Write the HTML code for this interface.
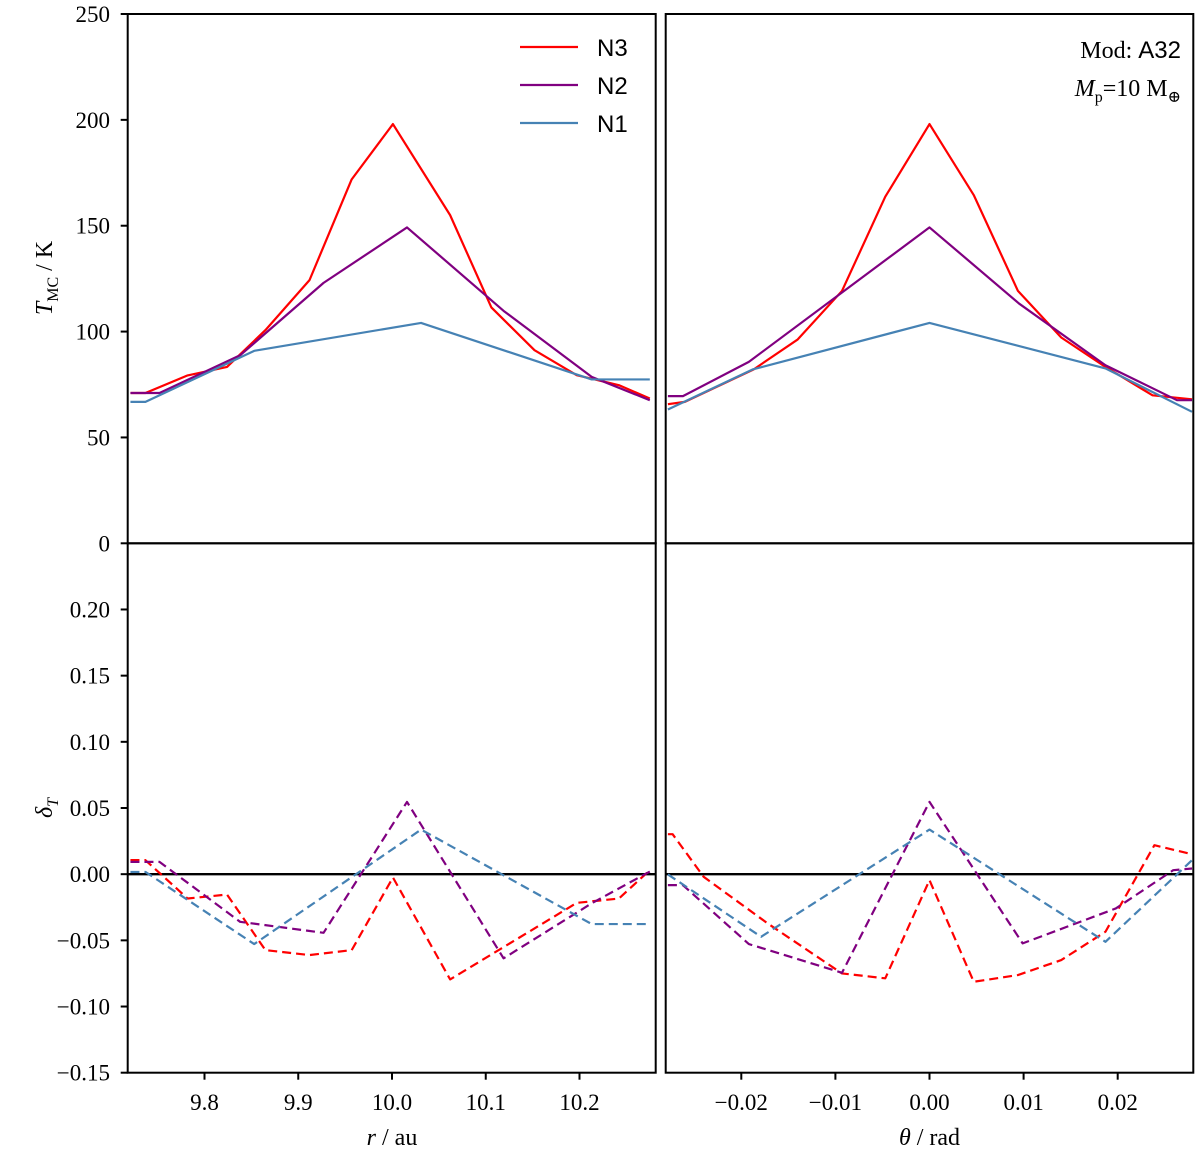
<!DOCTYPE html>
<html><head><meta charset="utf-8"><style>
html,body{margin:0;padding:0;background:#fff;width:1200px;height:1158px;overflow:hidden}
svg{display:block}
text{font-family:"Liberation Serif","DejaVu Serif",serif;fill:#000}
</style></head><body>
<svg id="chart" width="1200" height="1158" viewBox="0 0 1200 1158" xmlns="http://www.w3.org/2000/svg"></svg>
<script>
// ---- data ----
const yTicksTop = [0, 50, 100, 150, 200, 250];
const yTicksBot = [-0.15, -0.10, -0.05, 0.00, 0.05, 0.10, 0.15, 0.20];
const yTickLabelsBot = ["\u22120.15","\u22120.10","\u22120.05","0.00","0.05","0.10","0.15","0.20"];
const xTicksL = [9.8, 9.9, 10.0, 10.1, 10.2];
const xTickLabelsL = ["9.8","9.9","10.0","10.1","10.2"];
const xTicksR = [-0.02, -0.01, 0.0, 0.01, 0.02];
const xTickLabelsR = ["\u22120.02","\u22120.01","0.00","0.01","0.02"];

// top-left: T vs r
const tlN3r = [9.721,9.737,9.782,9.824,9.865,9.912,9.957,10.001,10.062,10.106,10.152,10.197,10.242,10.275];
const tlN3T = [71.0,71.0,79.3,83.3,100.7,124.3,171.9,198.0,155.0,111.4,91.2,79.4,74.7,68.4];
const tlN2r = [9.721,9.752,9.838,9.927,10.016,10.119,10.213,10.275];
const tlN2T = [71.0,71.0,88.8,123.0,149.2,109.8,78.6,67.6];
const tlN1r = [9.721,9.737,9.853,10.031,10.213,10.275];
const tlN1T = [66.8,66.8,90.9,104.1,77.4,77.4];
// top-right: T vs theta
const trN3t = [-0.0278,-0.0260,-0.0187,-0.0140,-0.0093,-0.0047,0,0.0047,0.0094,0.0140,0.0187,0.0237,0.0279];
const trN3T = [65.7,66.8,82.1,96.3,119.2,163.7,198.0,164.5,119.2,97.2,83.3,69.9,68.0];
const trN2t = [-0.0278,-0.0262,-0.0192,0,0.0095,0.0187,0.0263,0.0279];
const trN2T = [69.5,69.5,85.7,149.2,113.3,84.1,67.6,67.6];
const trN1t = [-0.0278,-0.0188,0,0.0187,0.0279];
const trN1T = [63.2,82.1,104.1,82.6,62.1];
// bottom-left: delta vs r
const blN3r = [9.721,9.737,9.782,9.824,9.865,9.912,9.957,10.001,10.062,10.106,10.152,10.197,10.242,10.275];
const blN3d = [0.0106,0.0106,-0.0184,-0.0154,-0.0574,-0.0611,-0.0574,-0.0025,-0.0795,-0.0607,-0.0410,-0.0217,-0.0184,0.003];
const blN2r = [9.721,9.752,9.838,9.927,10.016,10.119,10.213,10.275];
const blN2d = [0.0093,0.0093,-0.036,-0.0443,0.0546,-0.0636,-0.022,0.002];
const blN1r = [9.721,9.737,9.853,10.031,10.213,10.275];
const blN1d = [0.0017,0.0017,-0.0528,0.0337,-0.0377,-0.0377];
// bottom-right: delta vs theta
const brN3t = [-0.0278,-0.0273,-0.0240,-0.0172,-0.0093,-0.0047,0,0.0047,0.0094,0.0140,0.0187,0.0239,0.0279];
const brN3d = [0.0302,0.0302,-0.002,-0.0372,-0.0750,-0.0787,-0.0045,-0.0813,-0.0762,-0.0649,-0.0435,0.0219,0.0151];
const brN2t = [-0.0278,-0.0262,-0.0192,-0.0093,0,0.0099,0.0198,0.0259,0.0279];
const brN2d = [-0.0083,-0.0083,-0.0528,-0.0745,0.0546,-0.0523,-0.0259,0.003,0.0043];
const brN1t = [-0.0278,-0.0179,0,0.0187,0.0279];
const brN1d = [-0.0002,-0.0473,0.0337,-0.0511,0.0106];

// ---- layout ----
const NS = "http://www.w3.org/2000/svg";
const svg = document.getElementById("chart");
const L = {x0:127.7, x1:655.7}, R = {x0:665.7, x1:1193.3};
const TOP = {y0:14, y1:543.3}, BOT = {y0:543.3, y1:1072.7};
const xL = v => 392 + (v - 10.0) * 937.5;
const xR = v => 929.5 + v * 9410;
const yT = v => 543.3 - (v / 250) * (543.3 - 14);
const yB = v => 1072.7 - ((v + 0.15) / 0.40) * (1072.7 - 543.3);
const COL = {N3:"#ff0000", N2:"#800080", N1:"#4682b4"};

function mk(tag, attrs, parent){
  const e = document.createElementNS(NS, tag);
  for (const k in attrs) e.setAttribute(k, attrs[k]);
  (parent || svg).appendChild(e);
  return e;
}
function series(xs, ys, fx, fy, color, dashed, name, clipId){
  const d = xs.map((v,i)=>(i?"L":"M")+fx(v).toFixed(2)+","+fy(ys[i]).toFixed(2)).join(" ");
  const p = mk("path", {d:d, fill:"none", stroke:color, "stroke-width":2.2, "stroke-linejoin":"round", "clip-path":"url(#"+clipId+")"});
  if (dashed) p.setAttribute("stroke-dasharray","9,5");
  
  
}
// clip paths
const defs = mk("defs", {});
[["cTL",L,TOP],["cTR",R,TOP],["cBL",L,BOT],["cBR",R,BOT]].forEach(([id,X,Y])=>{
  const c = mk("clipPath",{id:id},defs);
  mk("rect",{x:X.x0,y:Y.y0,width:X.x1-X.x0,height:Y.y1-Y.y0},c);
});

// zero lines
[[L],[R]].forEach(([X])=>{
  const z = mk("line",{x1:X.x0,x2:X.x1,y1:yB(0),y2:yB(0),stroke:"#000","stroke-width":2.4});
  
  
});

// series
series(tlN3r, tlN3T, xL, yT, COL.N3, false, "top-left-n3-line", "cTL");
series(tlN2r, tlN2T, xL, yT, COL.N2, false, "top-left-n2-line", "cTL");
series(tlN1r, tlN1T, xL, yT, COL.N1, false, "top-left-n1-line", "cTL");
series(trN3t, trN3T, xR, yT, COL.N3, false, "top-right-n3-line", "cTR");
series(trN2t, trN2T, xR, yT, COL.N2, false, "top-right-n2-line", "cTR");
series(trN1t, trN1T, xR, yT, COL.N1, false, "top-right-n1-line", "cTR");
series(blN3r, blN3d, xL, yB, COL.N3, true, "bottom-left-n3-dashed", "cBL");
series(blN2r, blN2d, xL, yB, COL.N2, true, "bottom-left-n2-dashed", "cBL");
series(blN1r, blN1d, xL, yB, COL.N1, true, "bottom-left-n1-dashed", "cBL");
series(brN3t, brN3d, xR, yB, COL.N3, true, "bottom-right-n3-dashed", "cBR");
series(brN2t, brN2d, xR, yB, COL.N2, true, "bottom-right-n2-dashed", "cBR");
series(brN1t, brN1d, xR, yB, COL.N1, true, "bottom-right-n1-dashed", "cBR");

// frames
[["top-left-frame",L,TOP],["top-right-frame",R,TOP],["bottom-left-frame",L,BOT],["bottom-right-frame",R,BOT]].forEach(([n,X,Y])=>{
  const f = mk("rect",{x:X.x0,y:Y.y0,width:X.x1-X.x0,height:Y.y1-Y.y0,fill:"none",stroke:"#000","stroke-width":2});
  
  
});

function txt(s, x, y, anchor, size, name, extra){
  const t = mk("text", Object.assign({x:x,y:y,"text-anchor":anchor,"font-size":size}, extra||{}));
  t.textContent = s;
  
  
  return t;
}
// y ticks
yTicksTop.forEach(v=>{
  mk("line",{x1:L.x0-7,x2:L.x0,y1:yT(v),y2:yT(v),stroke:"#000","stroke-width":2});
  txt(String(v), 110, yT(v)+8, "end", 23, "y-tick-label-top");
});
yTicksBot.forEach((v,i)=>{
  mk("line",{x1:L.x0-7,x2:L.x0,y1:yB(v),y2:yB(v),stroke:"#000","stroke-width":2});
  txt(yTickLabelsBot[i], 110, yB(v)+8, "end", 23, "y-tick-label-bottom");
});
// x ticks
xTicksL.forEach((v,i)=>{
  mk("line",{x1:xL(v),x2:xL(v),y1:BOT.y1,y2:BOT.y1+7,stroke:"#000","stroke-width":2});
  txt(xTickLabelsL[i], xL(v), 1110, "middle", 23, "x-tick-label-left");
});
xTicksR.forEach((v,i)=>{
  mk("line",{x1:xR(v),x2:xR(v),y1:BOT.y1,y2:BOT.y1+7,stroke:"#000","stroke-width":2});
  txt(xTickLabelsR[i], xR(v), 1110, "middle", 23, "x-tick-label-right");
});

// axis titles
const xl = txt("", 392, 1145, "middle", 24, "x-axis-title-left");
xl.innerHTML = '<tspan font-style="italic">r</tspan> / au';
const xr = txt("", 929.5, 1145, "middle", 24, "x-axis-title-right");
xr.innerHTML = '<tspan font-style="italic">θ</tspan> / rad';
const yl = txt("", 0, 0, "middle", 24, "y-axis-title-top", {transform:"translate(52,278) rotate(-90)"});
yl.innerHTML = '<tspan font-style="italic">T</tspan><tspan font-size="16" dy="6">MC</tspan><tspan dy="-6"> / K</tspan>';
const yb = txt("", 0, 0, "middle", 24, "y-axis-title-bottom", {transform:"translate(52,808) rotate(-90)"});
yb.innerHTML = '<tspan font-style="italic">δ</tspan><tspan font-size="16" font-style="italic" dy="6">T</tspan>';

// legend
[["N3",COL.N3,47],["N2",COL.N2,85],["N1",COL.N1,123]].forEach(([lab,c,y])=>{
  const g = mk("g",{});
  
  
  mk("line",{x1:520,x2:578,y1:y,y2:y,stroke:c,"stroke-width":2.2},g);
  const t = mk("text",{x:597,y:y+9,"font-size":24,style:'font-family:"Liberation Sans","DejaVu Sans",sans-serif'},g);
  t.textContent = lab;
});
// annotation
const a1 = txt("", 1181, 58, "end", 24, "model-annotation");
a1.innerHTML = 'Mod:  <tspan style="font-family:\'Liberation Sans\',sans-serif">A32</tspan>';
const a2 = txt("", 1181, 96, "end", 24, "planet-mass-annotation");
a2.innerHTML = '<tspan font-style="italic">M</tspan><tspan font-size="16" dy="6">p</tspan><tspan dy="-6">=10 M</tspan><tspan font-size="16" dy="6">⊕</tspan>';
</script>
</body></html>
